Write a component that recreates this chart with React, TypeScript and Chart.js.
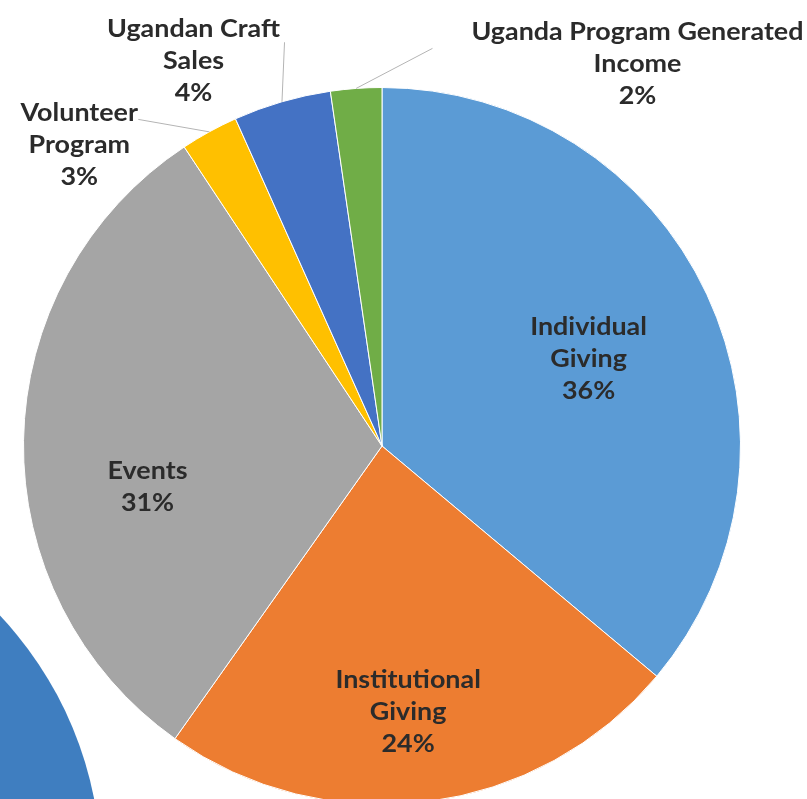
import { useEffect, useRef } from 'react';
import { Chart, registerables } from 'chart.js';

Chart.register(...registerables);

// ---- data ----
const categories = [
  'Individual Giving',
  'Institutional Giving',
  'Events',
  'Volunteer Program',
  'Ugandan Craft Sales',
  'Uganda Program Generated Income',
];
// shares in percent (labels show the rounded values: 36, 24, 31, 3, 4, 2)
const shares = [36.1, 23.7, 30.9, 2.6, 4.4, 2.3];
const colors = ['#5B9BD5', '#ED7D31', '#A5A5A5', '#FFC000', '#4472C4', '#70AD47'];

// ---- label layout (polar: degrees clockwise from 12 o'clock, radius as fraction of pie radius) ----
const labelAngle = [67.2, 174.4, 260.1, 314.8, 333.9, 33.8];
const labelRadius = [0.625, 0.747, 0.664, 1.19, 1.195, 1.281];
const wrapWidth = [150, 170, 200, 150, 180, 320];
const leaderOffset: (number[] | null)[] = [null, null, null, [59, -26], [91, -19], [-205, -16]];

const FONT = 'bold 24px Lato, "Open Sans", sans-serif';
const STRETCH_X = 1.12;
const LINE_H = 32;

function wrap(ctx: CanvasRenderingContext2D, text: string, max: number): string[] {
  const words = text.split(' ');
  const lines: string[] = [];
  let cur = '';
  for (const w of words) {
    const t = cur ? cur + ' ' + w : w;
    if (cur && ctx.measureText(t).width > max) {
      lines.push(cur);
      cur = w;
    } else cur = t;
  }
  if (cur) lines.push(cur);
  return lines;
}

const labelPlugin = {
  id: 'sliceLabels',
  afterDatasetsDraw(chart: any) {
    const ctx: CanvasRenderingContext2D = chart.ctx;
    const meta = chart.getDatasetMeta(0);
    const first: any = meta.data[0];
    const cx = first.x;
    const cy = first.y;
    const R = first.outerRadius;
    const total = shares.reduce((a, b) => a + b, 0);
    ctx.save();
    ctx.font = FONT;
    ctx.textAlign = 'center';
    ctx.textBaseline = 'middle';
    meta.data.forEach((arc: any, i: number) => {
      const a = (labelAngle[i] * Math.PI) / 180;
      const lx = cx + R * labelRadius[i] * Math.sin(a);
      const ly = cy - R * labelRadius[i] * Math.cos(a);
      const lines = wrap(ctx, categories[i], wrapWidth[i]);
      lines.push(Math.round((shares[i] / total) * 100) + '%');
      const off = leaderOffset[i];
      if (off) {
        const mid = (arc.startAngle + arc.endAngle) / 2;
        const ex = cx + R * Math.cos(mid);
        const ey = cy + R * Math.sin(mid);
        ctx.strokeStyle = '#B4B4B4';
        ctx.lineWidth = 1;
        ctx.beginPath();
        ctx.moveTo(lx + off[0], ly + off[1]);
        ctx.lineTo(ex, ey);
        ctx.stroke();
      }
      ctx.fillStyle = '#2b2b2b';
      const top = ly - ((lines.length - 1) * LINE_H) / 2;
      lines.forEach((t, k) => {
        ctx.save();
        ctx.translate(lx, top + k * LINE_H);
        ctx.scale(STRETCH_X, 1);
        ctx.fillText(t, 0, 0);
        ctx.restore();
      });
    });
    ctx.restore();
  },
};

export default function App() {
  const ref = useRef<HTMLCanvasElement | null>(null);
  useEffect(() => {
    if (!ref.current) return;
    const chart = new Chart(ref.current, {
      type: 'pie',
      data: {
        labels: categories,
        datasets: [
          {
            data: shares,
            backgroundColor: colors,
            borderColor: '#ffffff',
            borderWidth: 1,
          },
        ],
      },
      options: {
        responsive: false,
        animation: false,
        layout: { padding: { left: 22, right: 65, top: 87, bottom: 25 } },
        plugins: {
          legend: { display: false },
          tooltip: { enabled: false },
        },
      },
      plugins: [labelPlugin],
    });
    return () => chart.destroy();
  }, []);

  return (
    <div
      style={{
        position: 'fixed',
        left: 0,
        top: 0,
        width: 807,
        height: 799,
        overflow: 'hidden',
        background: '#ffffff',
      }}
    >
      <div
        style={{
          position: 'absolute',
          left: -641,
          top: 499,
          width: 742,
          height: 742,
          borderRadius: '50%',
          background: '#3F7EC0',
        }}
      />
      <canvas
        ref={ref}
        width={807}
        height={830}
        style={{ position: 'absolute', left: 0, top: 0 }}
      />
    </div>
  );
}
